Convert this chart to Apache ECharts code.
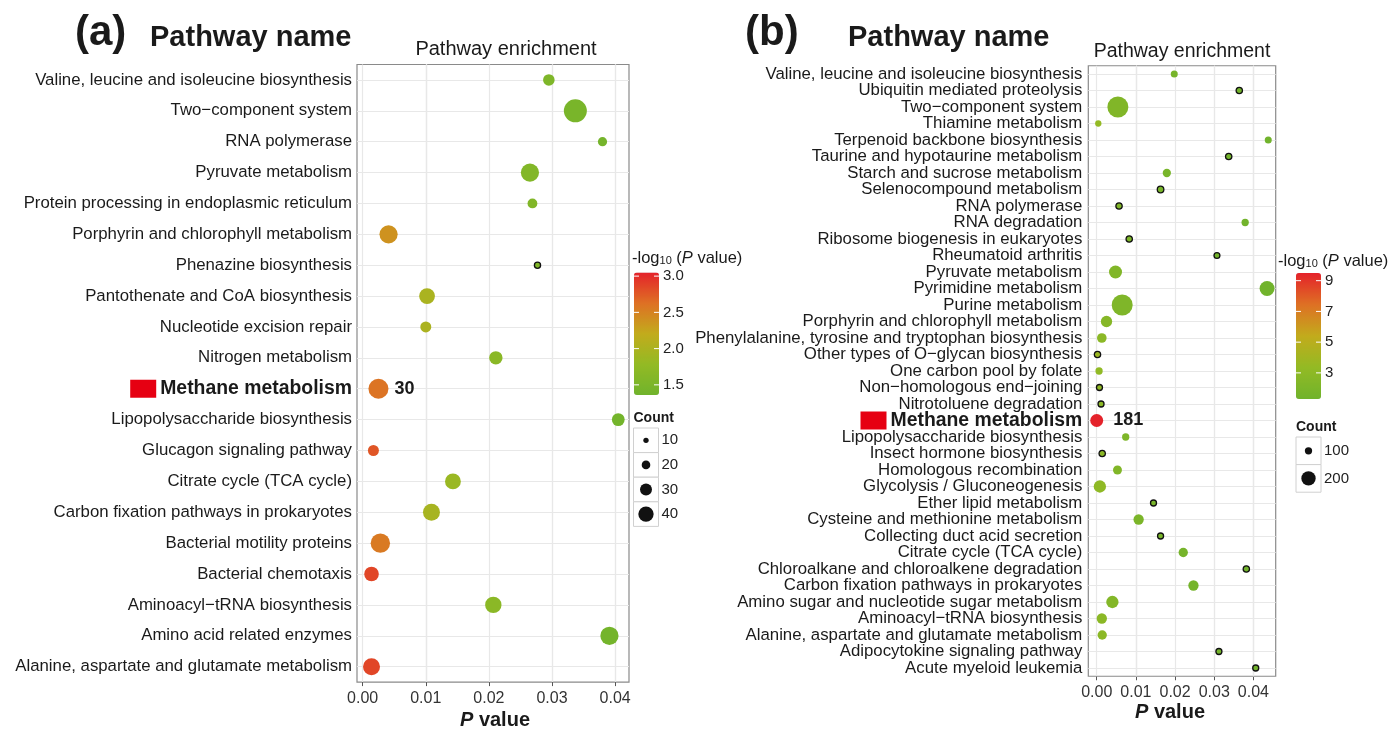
<!DOCTYPE html>
<html>
<head>
<meta charset="utf-8">
<script src="https://cdn.jsdelivr.net/npm/echarts@6/dist/echarts.min.js"></script>
<style>
  html, body { margin: 0; padding: 0; background: #ffffff; }
  #chart { width: 1393px; height: 729px; }
</style>
</head>
<body>
<div id="chart"></div>
<script>
// ---------- Panel (a) data ----------
const pathwaysA = [
  'Valine, leucine and isoleucine biosynthesis',
  'Two\u2212component system',
  'RNA polymerase',
  'Pyruvate metabolism',
  'Protein processing in endoplasmic reticulum',
  'Porphyrin and chlorophyll metabolism',
  'Phenazine biosynthesis',
  'Pantothenate and CoA biosynthesis',
  'Nucleotide excision repair',
  'Nitrogen metabolism',
  'Methane metabolism',
  'Lipopolysaccharide biosynthesis',
  'Glucagon signaling pathway',
  'Citrate cycle (TCA cycle)',
  'Carbon fixation pathways in prokaryotes',
  'Bacterial motility proteins',
  'Bacterial chemotaxis',
  'Aminoacyl\u2212tRNA biosynthesis',
  'Amino acid related enzymes',
  'Alanine, aspartate and glutamate metabolism'
];
const pValuesA = [0.0295, 0.0337, 0.0380, 0.0265, 0.0269, 0.0041, 0.0277, 0.0102, 0.0100, 0.0211,
                  0.0025, 0.0405, 0.0017, 0.0143, 0.0109, 0.0028, 0.0014, 0.0207, 0.0391, 0.0014];
const countsA = [16, 35, 12, 27, 13, 27, 7, 23, 15, 19,
                 30, 18, 15, 23, 25, 29, 21, 24, 27, 25];
const outlinedA = ['Phenazine biosynthesis'];
const colorTicksA = [1.5, 2.0, 2.5, 3.0];
const colorRangeA = [1.36, 3.05];
const countKeysA = [10, 20, 30, 40];

// ---------- Panel (b) data ----------
const pathwaysB = [
  'Valine, leucine and isoleucine biosynthesis',
  'Ubiquitin mediated proteolysis',
  'Two\u2212component system',
  'Thiamine metabolism',
  'Terpenoid backbone biosynthesis',
  'Taurine and hypotaurine metabolism',
  'Starch and sucrose metabolism',
  'Selenocompound metabolism',
  'RNA polymerase',
  'RNA degradation',
  'Ribosome biogenesis in eukaryotes',
  'Rheumatoid arthritis',
  'Pyruvate metabolism',
  'Pyrimidine metabolism',
  'Purine metabolism',
  'Porphyrin and chlorophyll metabolism',
  'Phenylalanine, tyrosine and tryptophan biosynthesis',
  'Other types of O\u2212glycan biosynthesis',
  'One carbon pool by folate',
  'Non\u2212homologous end\u2212joining',
  'Nitrotoluene degradation',
  'Methane metabolism',
  'Lipopolysaccharide biosynthesis',
  'Insect hormone biosynthesis',
  'Homologous recombination',
  'Glycolysis / Gluconeogenesis',
  'Ether lipid metabolism',
  'Cysteine and methionine metabolism',
  'Collecting duct acid secretion',
  'Citrate cycle (TCA cycle)',
  'Chloroalkane and chloroalkene degradation',
  'Carbon fixation pathways in prokaryotes',
  'Amino sugar and nucleotide sugar metabolism',
  'Aminoacyl\u2212tRNA biosynthesis',
  'Alanine, aspartate and glutamate metabolism',
  'Adipocytokine signaling pathway',
  'Acute myeloid leukemia'
];
const pValuesB = [0.0198, 0.0364, 0.0054, 0.0004, 0.0438, 0.0337, 0.0179, 0.0163, 0.0057, 0.0379,
                  0.0083, 0.0307, 0.0048, 0.0435, 0.0065, 0.0025, 0.0013, 0.0002, 0.0006, 0.0007,
                  0.0011, 3e-10, 0.0074, 0.0014, 0.0053, 0.0008, 0.0145, 0.0107, 0.0163, 0.0221,
                  0.0382, 0.0247, 0.0040, 0.0013, 0.0014, 0.0312, 0.0406];
const countsB = [96, 86, 296, 86, 96, 86, 114, 90, 86, 100,
                 86, 80, 182, 210, 296, 157, 133, 86, 100, 82,
                 82, 181, 100, 86, 124, 172, 82, 143, 82, 129,
                 86, 143, 172, 143, 129, 82, 82];
const outlinedB = [
  'Ubiquitin mediated proteolysis', 'Taurine and hypotaurine metabolism', 'Selenocompound metabolism',
  'RNA polymerase', 'Ribosome biogenesis in eukaryotes', 'Rheumatoid arthritis',
  'Other types of O\u2212glycan biosynthesis', 'Non\u2212homologous end\u2212joining', 'Nitrotoluene degradation',
  'Insect hormone biosynthesis', 'Ether lipid metabolism', 'Collecting duct acid secretion',
  'Chloroalkane and chloroalkene degradation', 'Adipocytokine signaling pathway', 'Acute myeloid leukemia'
];
const colorTicksB = [3, 5, 7, 9];
const colorRangeB = [1.3, 9.5];
const countKeysB = [100, 200];

// ---------- Shared ----------
const highlightedPathway = 'Methane metabolism';
const xTickValues = [0, 0.01, 0.02, 0.03, 0.04];
const xGridValuesA = [0, 0.005, 0.01, 0.015, 0.02, 0.025, 0.03, 0.035, 0.04];
const xGridValuesB = [0, 0.005, 0.01, 0.015, 0.02, 0.025, 0.03, 0.035, 0.04, 0.045];

const FONT = '"Liberation Sans", Arial, Helvetica, sans-serif';
const TEXT = '#1a1a1a';
const GRID_LINE = '#e8e8e8';
const BORDER = '#8a8a8a';
const HIGHLIGHT_RED = '#e60012';
const gradient = ['#70b32c', '#93ba24', '#c2ab1c', '#de7024', '#e4222a'];

// point diameters by gene count
const sizeA = c => 2 + 0.6 * c;
const sizeKeyA = c => 2 + 0.333 * c;
const sizeB = c => 0.3 + c / 14.3;

// layout
const layA = { left: 357, top: 64.5, width: 272, height: 617.6, xMin: -0.0009, xMax: 0.0422 };
const layB = { left: 1088.3, top: 65.75, width: 187.4, height: 610.5, xMin: -0.00215, xMax: 0.0457 };
const barA = { x: 634, y: 272.5, w: 25, h: 122.5 };
const barB = { x: 1296, y: 273, w: 25, h: 126 };
const VM_INSET = 15; // visualMap box padding before the colour bar

function neglog(p) { return -Math.log10(p); }

function buildSeries(idx, names, pv, counts, outlined, sizeFn, xGrid, labelDist) {
  return {
    type: 'scatter',
    xAxisIndex: idx,
    yAxisIndex: idx,
    z: 3,
    animation: false,
    symbolSize: v => sizeFn(v[3]),
    itemStyle: { opacity: 1 },
    data: names.map((n, i) => {
      const item = { value: [pv[i], n, neglog(pv[i]), counts[i]] };
      if (outlined.indexOf(n) >= 0) {
        item.itemStyle = { borderColor: '#111111', borderWidth: 1.3 };
      }
      if (n === highlightedPathway) {
        item.label = {
          show: true, position: 'right', distance: labelDist,
          formatter: p => String(p.value[3]),
          fontFamily: FONT, fontWeight: 'bold', fontSize: 18, color: TEXT
        };
      }
      return item;
    }),
    markLine: {
      silent: true,
      z: 1,
      animation: false,
      symbol: ['none', 'none'],
      label: { show: false },
      emphasis: { disabled: true },
      lineStyle: { color: GRID_LINE, width: 1.2, type: 'solid' },
      data: xGrid.map(v => ({ xAxis: v })).concat(names.map(n => ({ yAxis: n })))
    }
  };
}

function xAxisCfg(idx, lay, margin) {
  return {
    type: 'value', gridIndex: idx, min: lay.xMin, max: lay.xMax,
    axisLine: { show: false },
    splitLine: { show: false },
    axisTick: { show: true, customValues: xTickValues, length: 4, lineStyle: { color: '#555', width: 1 } },
    axisLabel: {
      customValues: xTickValues, margin: margin,
      formatter: v => v.toFixed(2),
      fontFamily: FONT, fontSize: 16, color: '#333333'
    }
  };
}

function yAxisCfg(idx, names, margin) {
  return {
    type: 'category', gridIndex: idx, data: names, inverse: true,
    axisLine: { show: false },
    splitLine: { show: false },
    axisTick: { show: true, alignWithLabel: true, interval: 0, length: 4, lineStyle: { color: '#555', width: 1 } },
    axisLabel: {
      interval: 0, margin: margin,
      fontFamily: FONT, fontSize: 16.8, color: TEXT,
      formatter: v => v === highlightedPathway ? '{box|}{gap|}{hl|' + v + '}' : v,
      rich: {
        hl: { fontFamily: FONT, fontWeight: 'bold', fontSize: 19.4, color: TEXT },
        box: { backgroundColor: HIGHLIGHT_RED, width: 26, height: 18 },
        gap: { width: 4 }
      }
    }
  };
}

function txt(x, y, str, extra) {
  return {
    type: 'text', x: x, y: y, z: 20, silent: true,
    style: Object.assign({
      text: str, fontFamily: FONT, fontSize: 16, fill: TEXT,
      align: 'left', verticalAlign: 'middle'
    }, extra || {})
  };
}

function legendTitle(x, y) {
  return txt(x, y, '-log{sub|10} ({it|P} value)', {
    fontSize: 16.5,
    rich: {
      sub: { fontFamily: FONT, fontSize: 11, fill: TEXT, verticalAlign: 'bottom', lineHeight: 11 },
      it: { fontFamily: FONT, fontSize: 16.5, fill: TEXT, fontStyle: 'italic' }
    }
  });
}

function colorbarMarks(bar, ticks, range, fmt) {
  const els = [];
  ticks.forEach(t => {
    const y = bar.y + (range[1] - t) / (range[1] - range[0]) * bar.h;
    els.push({ type: 'line', z: 20, silent: true, shape: { x1: bar.x, y1: y, x2: bar.x + 5, y2: y }, style: { stroke: '#ffffff', lineWidth: 1 } });
    els.push({ type: 'line', z: 20, silent: true, shape: { x1: bar.x + bar.w - 5, y1: y, x2: bar.x + bar.w, y2: y }, style: { stroke: '#ffffff', lineWidth: 1 } });
    els.push(txt(bar.x + bar.w + 4, y, fmt(t), { fontSize: 15, fill: '#222222' }));
  });
  return els;
}

function countLegend(x, y, keyW, keyH, keys, sizeFn) {
  const els = [txt(x, y - 10, 'Count', { fontSize: 14, fontWeight: 'bold' })];
  keys.forEach((k, i) => {
    const ky = y + i * keyH;
    els.push({ type: 'rect', z: 20, silent: true, shape: { x: x, y: ky, width: keyW, height: keyH }, style: { fill: '#ffffff', stroke: '#d0d0d0', lineWidth: 1 } });
    els.push({ type: 'circle', z: 21, silent: true, shape: { cx: x + keyW / 2, cy: ky + keyH / 2, r: sizeFn(k) / 2 }, style: { fill: '#111111' } });
    els.push(txt(x + keyW + 3, ky + keyH / 2, String(k), { fontSize: 15, fill: '#222222' }));
  });
  return els;
}

function axisTitle(cx, y) {
  return txt(cx, y, '{it|P} value', {
    align: 'center', fontSize: 20, fontWeight: 'bold',
    rich: { it: { fontFamily: FONT, fontSize: 20, fontWeight: 'bold', fontStyle: 'italic', fill: TEXT } }
  });
}

const graphics = [
  txt(75, 33, '(a)', { fontSize: 42, fontWeight: 'bold' }),
  txt(150, 38, 'Pathway name', { fontSize: 29, fontWeight: 'bold' }),
  txt(506, 49, 'Pathway enrichment', { align: 'center', fontSize: 20 }),
  txt(745, 33, '(b)', { fontSize: 42, fontWeight: 'bold' }),
  txt(848, 38, 'Pathway name', { fontSize: 29, fontWeight: 'bold' }),
  txt(1182, 52, 'Pathway enrichment', { align: 'center', fontSize: 19.5 }),
  axisTitle(495, 720),
  axisTitle(1170, 712),
  legendTitle(632, 258),
  legendTitle(1278, 261)
].concat(
  colorbarMarks(barA, colorTicksA, colorRangeA, t => t.toFixed(1)),
  colorbarMarks(barB, colorTicksB, colorRangeB, t => String(t)),
  countLegend(633.5, 428, 25, 24.6, countKeysA, sizeKeyA),
  countLegend(1296, 437, 25, 27.6, countKeysB, sizeB)
);

const chart = echarts.init(document.getElementById('chart'), null, { renderer: 'canvas' });
chart.setOption({
  animation: false,
  backgroundColor: '#ffffff',
  textStyle: { fontFamily: FONT },
  grid: [
    { left: layA.left, top: layA.top, width: layA.width, height: layA.height, show: true, borderColor: BORDER, borderWidth: 1.2, backgroundColor: 'transparent' },
    { left: layB.left, top: layB.top, width: layB.width, height: layB.height, show: true, borderColor: BORDER, borderWidth: 1.2, backgroundColor: 'transparent' }
  ],
  xAxis: [xAxisCfg(0, layA, 8), xAxisCfg(1, layB, 8)],
  yAxis: [yAxisCfg(0, pathwaysA, 5), yAxisCfg(1, pathwaysB, 6)],
  visualMap: [
    {
      type: 'continuous', seriesIndex: 0, dimension: 2,
      min: colorRangeA[0], max: colorRangeA[1],
      calculable: false, hoverLink: false, showLabel: false,
      left: barA.x - VM_INSET, top: barA.y - VM_INSET, itemWidth: barA.w, itemHeight: barA.h,
      inRange: { color: gradient }
    },
    {
      type: 'continuous', seriesIndex: 1, dimension: 2,
      min: colorRangeB[0], max: colorRangeB[1],
      calculable: false, hoverLink: false, showLabel: false,
      left: barB.x - VM_INSET, top: barB.y - VM_INSET, itemWidth: barB.w, itemHeight: barB.h,
      inRange: { color: gradient }
    }
  ],
  series: [
    buildSeries(0, pathwaysA, pValuesA, countsA, outlinedA, sizeA, xGridValuesA, 6),
    buildSeries(1, pathwaysB, pValuesB, countsB, outlinedB, sizeB, xGridValuesB, 10)
  ],
  graphic: graphics
});
</script>
</body>
</html>
